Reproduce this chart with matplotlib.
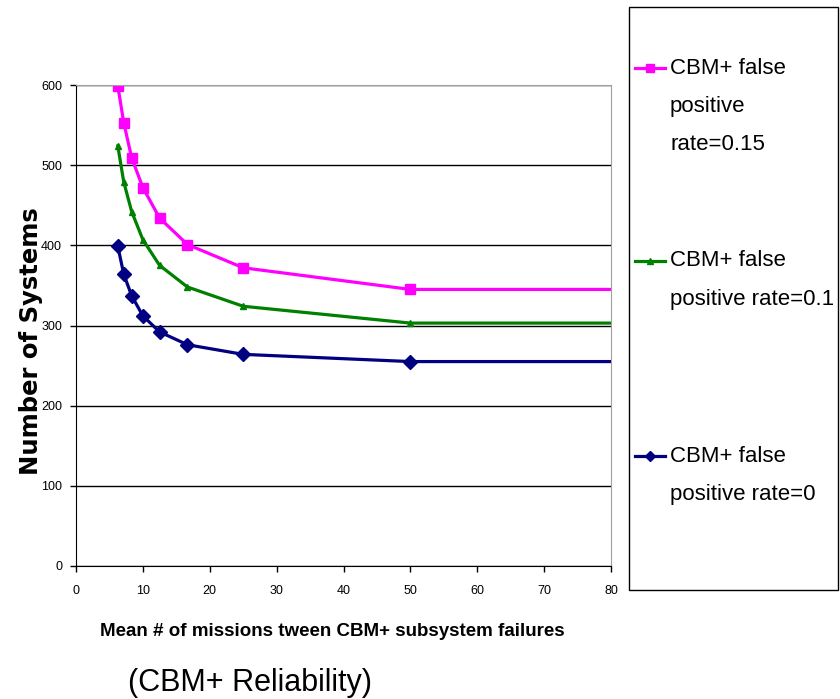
import matplotlib
matplotlib.use("Agg")
import matplotlib.pyplot as plt
from matplotlib.lines import Line2D
from matplotlib.patches import Rectangle

FONT = "Liberation Sans"

# Data
x_vals = [6.25, 7.14, 8.33, 10, 12.5, 16.67, 25, 50, 100]
fp015 = [599, 553, 509, 472, 434, 401, 372, 345, 345]
fp010 = [524, 479, 442, 407, 375, 348, 324, 303, 303]
fp000 = [399, 364, 337, 312, 292, 276, 264, 255, 255]
labels = ["CBM+ false\npositive\nrate=0.15",
          "CBM+ false\npositive rate=0.1",
          "CBM+ false\npositive rate=0"]
colors = ["#FF00FF", "#008000", "#000080"]
markers = ["s", "^", "D"]
msizes = [7, 5, 7]
x_ticks = [0, 10, 20, 30, 40, 50, 60, 70, 80]
y_ticks = [0, 100, 200, 300, 400, 500, 600]

W, H = 840, 699
fig = plt.figure(figsize=(8.4, 6.99), dpi=100)
ax = fig.add_axes([76/W, 1-566/H, (611-76)/W, (566-85)/H])

series = [fp015, fp010, fp000]
for ys, c, m, ms in zip(series, colors, markers, msizes):
    ax.plot(x_vals, ys, color=c, marker=m, markersize=ms, linewidth=2.3,
            markeredgecolor=c)

ax.set_xlim(0, 80)
ax.set_ylim(0, 600)
ax.set_xticks(x_ticks)
ax.set_yticks(y_ticks)
ax.yaxis.grid(True, color="black", linewidth=1)
ax.set_axisbelow(True)
for s in ["top", "right"]:
    ax.spines[s].set_color("#a0a0a0")
for s in ["left", "bottom"]:
    ax.spines[s].set_color("black")
ax.tick_params(direction="out", length=4, width=1, labelsize=9)
ax.tick_params(axis="x", pad=10)
ax.tick_params(axis="y", pad=6)
for lab in ax.get_xticklabels() + ax.get_yticklabels():
    lab.set_family(FONT)

ax.set_ylabel("Number of Systems", fontsize=17.5, fontweight="bold",
              family="DejaVu Sans")
ax.yaxis.set_label_coords(-45/535, (566-341)/481)
ax.yaxis.label.set_va("center")
ax.set_xlabel("Mean # of missions tween CBM+ subsystem failures",
              fontsize=13.5, fontweight="bold", family=FONT)
ax.xaxis.set_label_coords((332-76)/535, -(632-566)/481)
ax.xaxis.label.set_va("center")

fig.text(250/W, 1-683/H, "(CBM+ Reliability)", fontsize=22,
         family=FONT, ha="center", va="center")

# Legend box
fig.patches.append(Rectangle((629/W, 1-590/H), (838-629)/W, (590-7)/H,
                             transform=fig.transFigure, facecolor="white",
                             edgecolor="black", linewidth=1))
entry_y = [68, 261, 456]
line_gap = 38.5
for lab, c, m, ms, yy in zip(labels, colors, markers, msizes, entry_y):
    fy = 1 - yy/H
    fig.lines.append(Line2D([635/W, 650/W, 665/W], [fy, fy, fy],
                            transform=fig.transFigure, color=c, linewidth=2.3,
                            marker=m, markersize=ms*0.8, markevery=[1],
                            markeredgecolor=c))
    for i, part in enumerate(lab.split("\n")):
        fig.text(670/W, 1-(yy + i*line_gap)/H, part, fontsize=16, family=FONT,
                 ha="left", va="center")

fig.savefig("out.png", dpi=100)
